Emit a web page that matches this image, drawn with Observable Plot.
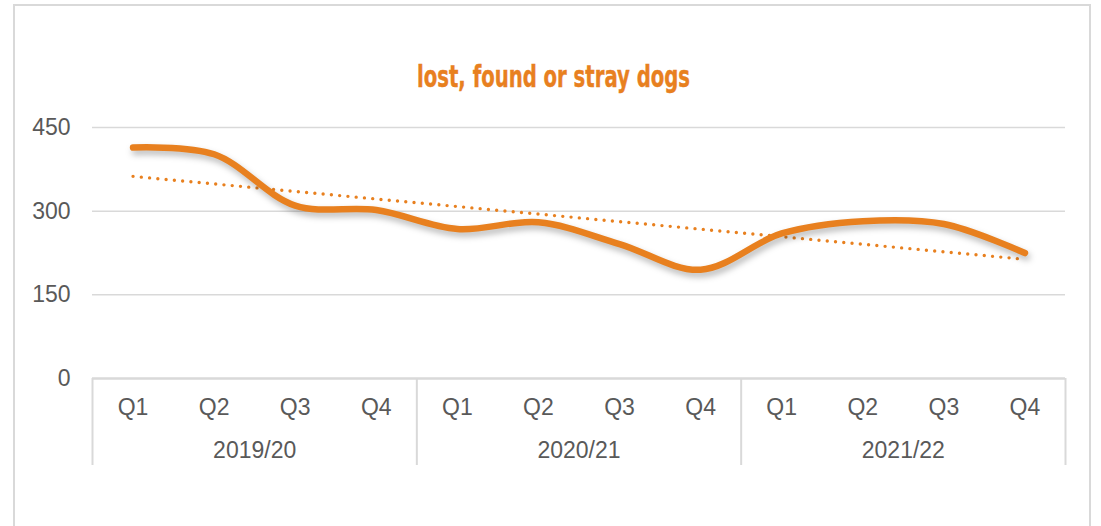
<!DOCTYPE html>
<html>
<head>
<meta charset="utf-8">
<script src="https://cdn.jsdelivr.net/npm/d3@7"></script>
<script src="https://cdn.jsdelivr.net/npm/@observablehq/plot@0.6"></script>
<style>
  html, body { margin: 0; padding: 0; background: #fff; }
  #wrap { position: relative; width: 1101px; height: 526px; overflow: hidden; background: #fff; }
  #box { position: absolute; left: 13px; top: 4px; width: 1078px; height: 560px; border: 2px solid #d9d9d9; box-sizing: border-box; }
  #title { position: absolute; left: 0; top: 0; }
  #chart { position: absolute; left: 0; top: 0; }
</style>
</head>
<body>
<div id="wrap">
  <div id="box"></div>
  <div id="chart"></div>
  <svg id="title" width="1101" height="110">
    <text x="553.5" y="87" text-anchor="middle" textLength="273" lengthAdjust="spacingAndGlyphs"
      style="font-family: 'Liberation Sans Narrow', 'DejaVu Sans Condensed', 'Liberation Sans', sans-serif; font-weight: bold; font-size: 30px; fill: #E8801F; stroke: #E8801F; stroke-width: 0.4px;">lost, found or stray dogs</text>
  </svg>
</div>
<script>
const years = ["2019/20", "2020/21", "2021/22"];
const quarters = ["Q1", "Q2", "Q3", "Q4"];
const values = [414, 402, 310, 302, 268, 280, 241, 195, 260, 282, 277, 225];
const yTicks = [0, 150, 300, 450];

const orange = "#E8801F";
const grey = "#d9d9d9";
const textColor = "#595959";

const rows = values.map((v, i) => ({
  i,
  value: v,
  quarter: quarters[i % quarters.length],
  year: years[Math.floor(i / quarters.length)]
}));
const yearRows = years.map(y => {
  const idx = rows.filter(r => r.year === y).map(r => r.i);
  return { year: y, center: d3.mean(idx), start: d3.min(idx) - 0.5, end: d3.max(idx) + 0.5 };
});
const boundaries = Array.from(new Set(yearRows.flatMap(d => [d.start, d.end])));

const plot = Plot.plot({
  width: 1101,
  height: 526,
  marginLeft: 92,
  marginRight: 36,
  marginTop: 127,
  marginBottom: 148,
  style: { fontFamily: "'Liberation Sans', Arial, sans-serif", background: "transparent" },
  x: { domain: [-0.5, values.length - 0.5], axis: null },
  y: { domain: [0, 450], axis: null },
  marks: [
    Plot.gridY(yTicks.filter(t => t > 0), { stroke: grey, strokeOpacity: 1, strokeWidth: 1.5 }),
    Plot.ruleY([0], { stroke: grey, strokeWidth: 2.5 }),
    Plot.axisY({ ticks: yTicks, tickSize: 0, tickPadding: 22, fontSize: 23, fill: textColor, label: null }),
    Plot.axisX({ ticks: boundaries, tickSize: 87, tickFormat: () => "", stroke: grey, strokeWidth: 2, label: null }),
    Plot.text(rows, { x: "i", text: "quarter", frameAnchor: "bottom", lineAnchor: "middle", dy: 29, fontSize: 23, fill: textColor }),
    Plot.text(yearRows, { x: "center", text: "year", frameAnchor: "bottom", lineAnchor: "middle", dy: 72, fontSize: 23, fill: textColor }),
    Plot.linearRegressionY(rows, { x: "i", y: "value", ci: 0, stroke: orange, strokeWidth: 3.4, strokeDasharray: "0 8.3", strokeLinecap: "round" }),
    Plot.line(rows, { x: "i", y: "value", curve: "catmull-rom", stroke: orange, strokeWidth: 6.5, strokeLinecap: "round", imageFilter: "drop-shadow(2px 4px 3px rgba(0,0,0,0.28))" })
  ]
});
document.getElementById("chart").appendChild(plot);
</script>
</body>
</html>
